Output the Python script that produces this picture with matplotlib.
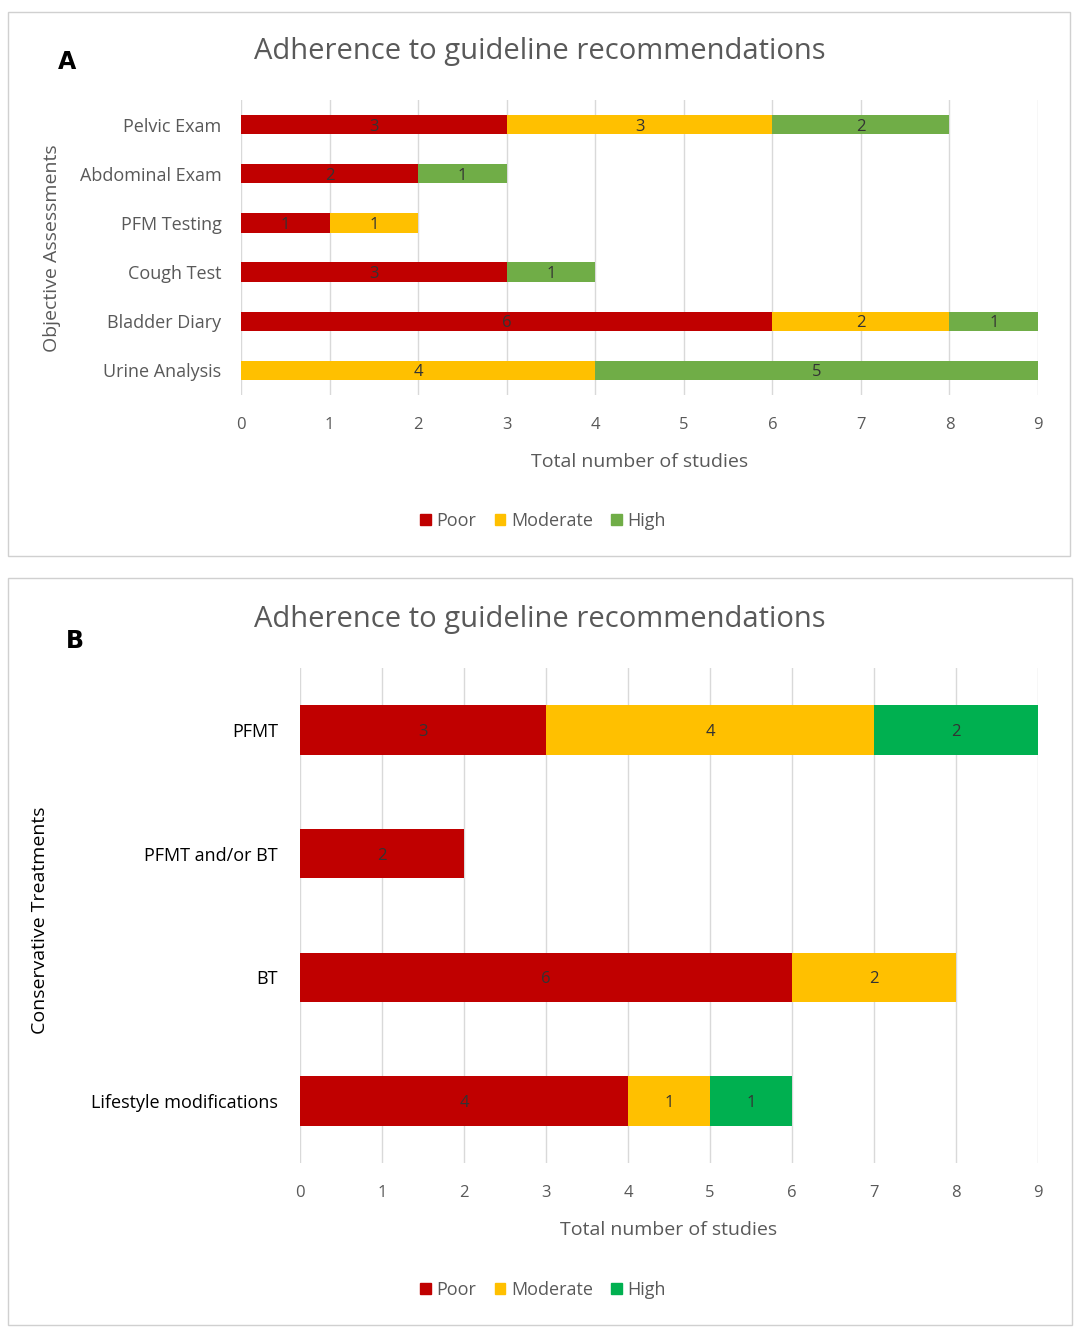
import matplotlib
matplotlib.use("Agg")
import matplotlib.pyplot as plt
import matplotlib.patches as mpatches
import numpy as np

plt.rcParams['font.family'] = ['Open Sans', 'DejaVu Sans']

# Panel A data
cats_a = ["Pelvic Exam", "Abdominal Exam", "PFM Testing", "Cough Test", "Bladder Diary", "Urine Analysis"]
poor_a = [3, 2, 1, 3, 6, 0]
mod_a = [3, 0, 1, 0, 2, 4]
high_a = [2, 1, 0, 1, 1, 5]

# Panel B data
cats_b = ["PFMT", "PFMT and/or BT", "BT", "Lifestyle modifications"]
poor_b = [3, 2, 6, 4]
mod_b = [4, 0, 2, 1]
high_b = [2, 0, 0, 1]

C_POOR = "#C00000"
C_MOD = "#FFC000"
C_HIGH_A = "#70AD47"
C_HIGH_B = "#00B050"
GRAY = "#595959"

W, H = 1080, 1331
fig = plt.figure(figsize=(W / 100, H / 100), dpi=100)


def px_axes(x0, y0, x1, y1):
    return fig.add_axes([x0 / W, 1 - y1 / H, (x1 - x0) / W, (y1 - y0) / H])


def box(x0, y0, x1, y1):
    fig.patches.append(mpatches.Rectangle((x0 / W, 1 - y1 / H), (x1 - x0) / W, (y1 - y0) / H,
                                          transform=fig.transFigure, fill=False,
                                          edgecolor="#d0d0d0", linewidth=1))


def draw_panel(ax, cats, poor, mod, high, c_high, height, label_color, ypad):
    y = np.arange(len(cats))
    left = np.zeros(len(cats))
    for vals, col in ((poor, C_POOR), (mod, C_MOD), (high, c_high)):
        vals = np.array(vals, dtype=float)
        bars = ax.barh(y, vals, left=left, height=height, color=col, zorder=3)
        for b, v in zip(bars, vals):
            if v > 0:
                ax.text(b.get_x() + b.get_width() / 2, b.get_y() + b.get_height() / 2,
                        f"{int(v)}", ha="center", va="center_baseline", fontsize=12,
                        color="#333333", zorder=4)
        left += vals
    ax.set_yticks(y)
    ax.set_yticklabels(cats, fontsize=13, color=label_color)
    ax.set_ylim(len(cats) - 0.5, -0.5)
    ax.set_xlim(0, 9)
    ax.set_xticks(range(10))
    ax.tick_params(axis="x", colors=GRAY, labelsize=12, length=0, pad=16)
    ax.tick_params(axis="y", length=0, pad=ypad)
    ax.grid(axis="x", color="#d9d9d9", linewidth=1, zorder=0)
    for s in ax.spines.values():
        s.set_visible(False)
    ax.set_xlabel("Total number of studies", fontsize=14, color=GRAY, labelpad=14)


# Panel A
box(8, 12, 1070, 556)
ax_a = px_axes(241, 100, 1038, 395)
draw_panel(ax_a, cats_a, poor_a, mod_a, high_a, C_HIGH_A, 0.39, GRAY, 14)
fig.text(540 / W, 1 - 52 / H, "Adherence to guideline recommendations", ha="center", va="center",
         fontsize=21, color=GRAY)
fig.text(58 / W, 1 - 62 / H, "A", ha="left", va="center", fontsize=17, fontweight="bold", color="black",
         family=["DejaVu Sans"])
fig.text(52 / W, 1 - 248 / H, "Objective Assessments", ha="center", va="center", rotation=90,
         fontsize=14, color=GRAY)
handles_a = [mpatches.Patch(color=c) for c in (C_POOR, C_MOD, C_HIGH_A)]
fig.legend(handles_a, ["Poor", "Moderate", "High"], loc="center", bbox_to_anchor=(543 / W, 1 - 521 / H),
           ncol=3, frameon=False, fontsize=13, labelcolor=GRAY, handlelength=0.6, handleheight=0.6,
           handletextpad=0.3, columnspacing=1.0)

# Panel B
box(8, 578, 1072, 1325)
ax_b = px_axes(300, 668, 1038, 1163)
draw_panel(ax_b, cats_b, poor_b, mod_b, high_b, C_HIGH_B, 0.4, "black", 16)
fig.text(540 / W, 1 - 619 / H, "Adherence to guideline recommendations", ha="center", va="center",
         fontsize=21, color=GRAY)
fig.text(66 / W, 1 - 641 / H, "B", ha="left", va="center", fontsize=17, fontweight="bold", color="black",
         family=["DejaVu Sans"])
fig.text(40 / W, 1 - 920 / H, "Conservative Treatments", ha="center", va="center", rotation=90,
         fontsize=14, color="black")
handles_b = [mpatches.Patch(color=c) for c in (C_POOR, C_MOD, C_HIGH_B)]
fig.legend(handles_b, ["Poor", "Moderate", "High"], loc="center", bbox_to_anchor=(543 / W, 1 - 1290 / H),
           ncol=3, frameon=False, fontsize=13, labelcolor=GRAY, handlelength=0.6, handleheight=0.6,
           handletextpad=0.3, columnspacing=1.0)

fig.savefig("out.png", dpi=100, facecolor="white")
